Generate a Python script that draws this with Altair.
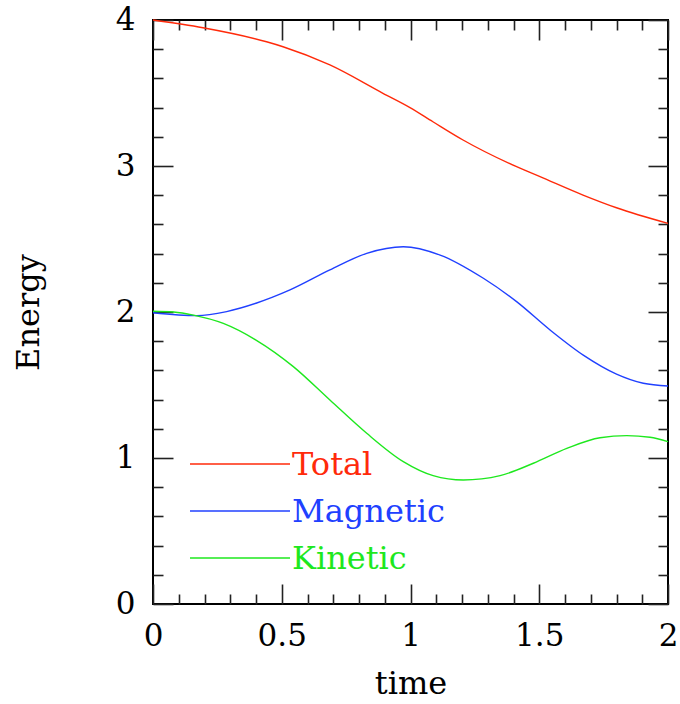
import altair as alt
import pandas as pd

# Energy histories sampled along the run
total_time = [0.0, 0.194, 0.441, 0.505, 0.687, 0.893, 0.998, 1.087, 1.204, 1.412, 1.503, 1.67, 1.80, 2.0]
total_energy = [4.0, 3.947, 3.851, 3.817, 3.692, 3.498, 3.40, 3.303, 3.178, 2.995, 2.927, 2.801, 2.714, 2.607]

magnetic_time = [0.0, 0.17, 0.286, 0.40, 0.532, 0.687, 0.83, 0.972, 1.115, 1.283, 1.412, 1.542, 1.671, 1.80, 1.904, 2.0]
magnetic_energy = [1.995, 1.975, 2.003, 2.06, 2.151, 2.288, 2.402, 2.447, 2.39, 2.231, 2.071, 1.877, 1.705, 1.575, 1.512, 1.493]

kinetic_time = [0.0, 0.08, 0.157, 0.273, 0.40, 0.545, 0.687, 0.83, 0.972, 1.088, 1.205, 1.348, 1.477, 1.607, 1.736, 1.84, 1.93, 2.0]
kinetic_energy = [2.005, 2.0, 1.979, 1.922, 1.808, 1.626, 1.397, 1.169, 0.975, 0.879, 0.849, 0.879, 0.964, 1.066, 1.139, 1.153, 1.142, 1.112]

series_names = ["Total", "Magnetic", "Kinetic"]
series_colors = ["#ff2a0a", "#2040ff", "#1ee81e"]

x_major = [0, 0.5, 1, 1.5, 2]
x_minor = [0.1, 0.2, 0.3, 0.4, 0.6, 0.7, 0.8, 0.9, 1.1, 1.2, 1.3, 1.4,
           1.6, 1.7, 1.8, 1.9]
y_major = [0, 1, 2, 3, 4]
y_minor = [0.2, 0.4, 0.6, 0.8, 1.2, 1.4, 1.6, 1.8, 2.2, 2.4, 2.6, 2.8,
           3.2, 3.4, 3.6, 3.8]

FONT = "DejaVu Serif"
W, H = 515, 584

frames = []
for name, t, e in [("Total", total_time, total_energy),
                   ("Magnetic", magnetic_time, magnetic_energy),
                   ("Kinetic", kinetic_time, kinetic_energy)]:
    frames.append(pd.DataFrame({"series": name, "time": t, "energy": e}))
df = pd.concat(frames, ignore_index=True)

legend_df = pd.DataFrame({"series": series_names, "order": [0, 1, 2]})

xscale = alt.Scale(domain=[0, 2], nice=False, zero=False)
yscale = alt.Scale(domain=[0, 4], nice=False, zero=False)
color = alt.Color("series:N", scale=alt.Scale(domain=series_names, range=series_colors), legend=None)

TICK = dict(domain=False, grid=False, tickColor="#222222", tickWidth=1.6)


def axis(orient, values, size, labels=False, **kw):
    return alt.Axis(orient=orient, values=values, offset=-size, tickSize=size,
                    labels=labels, title=kw.pop("title", None), **TICK, **kw)


def tick_layer(x_axis, y_axis):
    return alt.Chart(df).mark_point(opacity=0).encode(
        x=alt.X("time:Q", scale=xscale, axis=x_axis),
        y=alt.Y("energy:Q", scale=yscale, axis=y_axis),
    )


lines = alt.Chart(df).mark_line(strokeWidth=1.4, interpolate="monotone").encode(
    x=alt.X("time:Q", scale=xscale, axis=axis(
        "bottom", x_major, 20, labels=True, title="time",
        labelExpr="'' + datum.value", labelFont=FONT, labelFontSize=31,
        labelColor="black", labelPadding=17, labelFlush=False, labelOverlap=False,
        titleFont=FONT, titleFontSize=32, titleFontWeight="normal",
        titleColor="black", titlePadding=17)),
    y=alt.Y("energy:Q", scale=yscale, axis=axis(
        "left", y_major, 20, labels=True, title="Energy",
        labelExpr="'' + datum.value", labelFont=FONT, labelFontSize=31,
        labelColor="black", labelPadding=18, labelFlush=False, labelOverlap=False,
        titleFont=FONT, titleFontSize=32, titleFontWeight="normal",
        titleColor="black", titlePadding=70)),
    color=color,
    detail="series:N",
)

ticks = [
    tick_layer(axis("bottom", x_minor, 10), axis("left", y_minor, 10)),
    tick_layer(axis("top", x_major, 20), axis("right", y_major, 20)),
    tick_layer(axis("top", x_minor, 10), axis("right", y_minor, 10)),
]

legend_base = alt.Chart(legend_df).transform_calculate(
    ly="444 + 47 * datum.order", x0="37", x1="137", tx="139"
)
legend_lines = legend_base.mark_rule(strokeWidth=1.4).encode(
    x=alt.X("x0:Q", scale=None), x2="x1:Q",
    y=alt.Y("ly:Q", scale=None), color=color,
)
legend_text = legend_base.mark_text(
    align="left", baseline="middle", font=FONT, fontSize=32, dy=1
).encode(
    x=alt.X("tx:Q", scale=None), y=alt.Y("ly:Q", scale=None),
    text="series:N", color=color,
)

chart = alt.layer(lines, *ticks, legend_lines, legend_text).resolve_axis(
    x="independent", y="independent"
).properties(
    width=W, height=H,
    autosize=alt.AutoSizeParams(type="none"),
    padding={"left": 153, "top": 20, "right": 12, "bottom": 100},
).configure_view(stroke="black", strokeWidth=2)

chart.save("out.html", embed_options={"renderer": "svg", "actions": False})
